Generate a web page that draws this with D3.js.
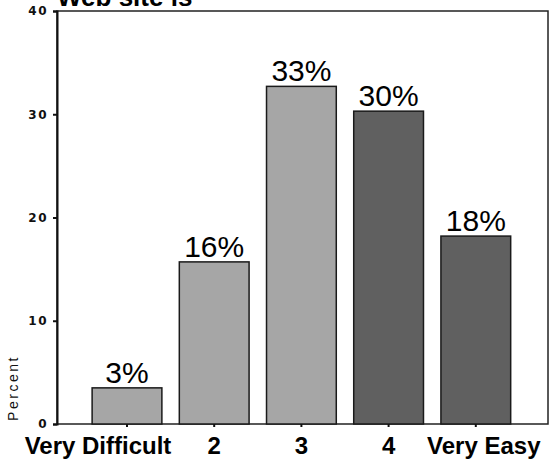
<!DOCTYPE html>
<html>
<head>
<meta charset="utf-8">
<script src="https://cdn.jsdelivr.net/npm/d3@7"></script>
<style>
  body { margin: 0; background: #fff; }
  svg { display: block; }
</style>
</head>
<body>
<div id="chart"></div>
<script>
/**
 * DATA
 * */
const categories = ["Very Difficult", "2", "3", "4", "Very Easy"];
const percents = [3.5, 15.7, 32.7, 30.3, 18.2];
const pctLabels = ["3%", "16%", "33%", "30%", "18%"];
const yTicks = [0, 10, 20, 30, 40];
const barShade = ["light", "light", "light", "dark", "dark"];

/**
 * CONSTANTS
 * */
const width = 549,
  height = 463,
  margin = { top: 11, bottom: 39, left: 57, right: 1 };

const svg = d3.select("#chart")
  .append("svg")
  .attr("width", width)
  .attr("height", height);

// scales
const y = d3.scaleLinear()
  .domain([0, 40])
  .range([height - margin.bottom, margin.top]);

const x = d3.scaleBand()
  .domain(categories)
  .range([83.4, 519.4])
  .paddingInner(0.2)
  .paddingOuter(0.1);

const colors = { light: "#a6a6a6", dark: "#606060" };
const font = "Liberation Sans, Arial, sans-serif";

// title (cut off at the top edge, as in the original)
svg.append("text")
  .attr("x", 57)
  .attr("y", 6)
  .attr("font-family", font)
  .attr("font-weight", "bold")
  .attr("font-size", 26)
  .attr("fill", "#000")
  .text("Web site is");

// frame
svg.append("rect")
  .attr("x", margin.left)
  .attr("y", margin.top)
  .attr("width", width - margin.right - margin.left)
  .attr("height", y(0) - margin.top)
  .attr("fill", "none")
  .attr("stroke", "#222")
  .attr("stroke-width", 1.5);

// y axis
const yAxis = svg.append("g")
  .attr("transform", `translate(${margin.left},0)`)
  .call(d3.axisLeft(y).tickValues(yTicks).tickSize(4).tickPadding(5));
yAxis.select(".domain").attr("stroke", "#111").attr("stroke-width", 2);
yAxis.selectAll(".tick line").attr("stroke", "#111").attr("stroke-width", 2);
yAxis.selectAll(".tick text")
  .attr("font-family", "DejaVu Sans, sans-serif")
  .attr("font-weight", "bold")
  .attr("font-size", 12)
  .attr("letter-spacing", 1.5)
  .attr("fill", "#111");

// "Percent" label
svg.append("text")
  .attr("transform", `translate(18,388) rotate(-90)`)
  .attr("text-anchor", "middle")
  .attr("font-family", font)
  .attr("font-size", 14)
  .attr("letter-spacing", 2.5)
  .attr("fill", "#111")
  .text("Percent");

// bars
svg.selectAll("rect.bar")
  .data(categories)
  .join("rect")
  .attr("class", "bar")
  .attr("x", d => x(d))
  .attr("y", (d, i) => y(percents[i]))
  .attr("width", x.bandwidth())
  .attr("height", (d, i) => y(0) - y(percents[i]))
  .attr("fill", (d, i) => colors[barShade[i]])
  .attr("stroke", "#1a1a1a")
  .attr("stroke-width", 1.5);

// value labels
svg.selectAll("text.pct")
  .data(categories)
  .join("text")
  .attr("class", "pct")
  .attr("x", d => x(d) + x.bandwidth() / 2)
  .attr("y", (d, i) => y(percents[i]) - 5)
  .attr("text-anchor", "middle")
  .attr("font-family", font)
  .attr("font-size", 30)
  .attr("fill", "#000")
  .text((d, i) => pctLabels[i]);

// x axis
const xAxis = svg.append("g")
  .attr("transform", `translate(0,${y(0)})`)
  .call(d3.axisBottom(x).tickSize(3).tickPadding(10));
xAxis.select(".domain").remove();
xAxis.selectAll(".tick line").attr("stroke", "#111").attr("stroke-width", 2);
xAxis.selectAll(".tick text")
  .attr("font-family", font)
  .attr("font-weight", "bold")
  .attr("font-size", 24)
  .attr("fill", "#000");
// end labels are pushed in toward the edges like in the original
xAxis.selectAll(".tick text")
  .filter(d => d === categories[0])
  .attr("dx", -29);
xAxis.selectAll(".tick text")
  .filter(d => d === categories[categories.length - 1])
  .attr("dx", 8);
</script>
</body>
</html>
